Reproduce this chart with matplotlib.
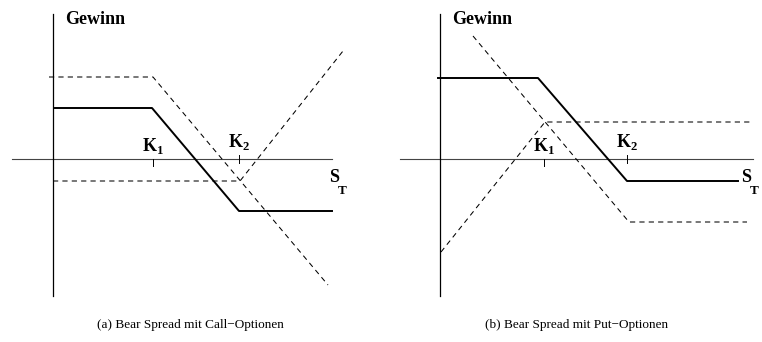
import matplotlib.pyplot as plt

plt.rcParams['mathtext.fontset'] = 'custom'
plt.rcParams['mathtext.rm'] = 'Liberation Serif'
plt.rcParams['mathtext.bf'] = 'Liberation Serif:bold'

# payoff diagrams (S_T, profit), origin where the axes cross
K_a = [100, 186]
spread_a_s = [2, 99, 186, 279]
spread_a_p = [51, 51, -52, -52]
short_call_s = [-4, 100, 275]
short_call_p = [82, 82, -126]
long_call_s = [0, 187, 290]
long_call_p = [-22, -22, 108]

K_b = [104, 187]
spread_b_s = [-2, 98, 187, 298]
spread_b_p = [81, 81, -22, -22]
long_put_s = [33, 189, 307]
long_put_p = [123, -63, -63]
short_put_s = [1, 105, 312]
short_put_p = [-93, 37, 37]

fig = plt.figure(figsize=(7.62, 3.42), dpi=100)

def panel(rect, xlim, K, spread, dashed, xaxis, st_x, caption):
    ax = fig.add_axes(rect)
    ax.set_xlim(*xlim)
    ax.set_ylim(-183, 159)
    ax.axis('off')
    ax.plot(xaxis, [0, 0], color='#444444', lw=0.8)
    ax.plot([0, 0], [-137, 145], color='black', lw=0.9)
    ax.plot([K[0], K[0]], [0, -7], color='black', lw=0.7)
    ax.plot([K[1], K[1]], [4, -4], color='black', lw=0.7)
    for s, p in dashed:
        ax.plot(s, p, color='black', lw=0.75, dashes=(5, 4))
    ax.plot(spread[0], spread[1], color='black', lw=1.4)
    ax.text(12, 139, 'Gewinn', family='Liberation Serif', weight='bold', fontsize=13, ha='left', va='center')
    ax.text(K[0], 3, r'$\mathbf{K}_{\mathbf{1}}$', fontsize=13, ha='center', va='bottom')
    ax.text(K[1], 7, r'$\mathbf{K}_{\mathbf{2}}$', fontsize=13, ha='center', va='bottom')
    ax.text(st_x, -19, 'S', family='Liberation Serif', weight='bold', fontsize=13, ha='left', va='center')
    ax.text(st_x + 9, -32, 'T', family='Liberation Serif', weight='bold', fontsize=9.5, ha='left', va='center')
    ax.text(137, -166, caption, family='Liberation Serif', fontsize=9.5, ha='center', va='center')
    return ax

panel([0, 0, 0.5, 1], (-53, 328), K_a, (spread_a_s, spread_a_p),
      [(short_call_s, short_call_p), (long_call_s, long_call_p)],
      [-41, 279], 276, '(a) Bear Spread mit Call\u2212Optionen')
panel([0.5, 0, 0.5, 1], (-59, 322), K_b, (spread_b_s, spread_b_p),
      [(long_put_s, long_put_p), (short_put_s, short_put_p)],
      [-40, 313], 301, '(b) Bear Spread mit Put\u2212Optionen')

fig.savefig('out.png', dpi=100)
